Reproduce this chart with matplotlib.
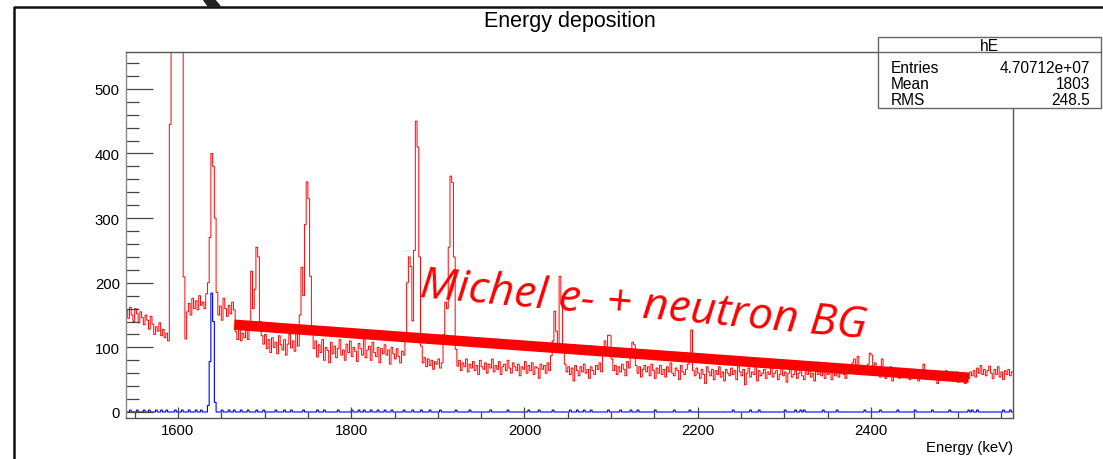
import numpy as np
import matplotlib
matplotlib.use('Agg')
import matplotlib.pyplot as plt
from matplotlib.patches import Rectangle, Polygon
from matplotlib.lines import Line2D

plt.rcParams['font.family'] = ['Liberation Sans', 'DejaVu Sans']

# histogram binning (keV), 2 keV bins
e_lo, e_hi, bw = 1540, 2564, 2

# red spectrum (counts per bin), rows of 25 bins = 50 keV
red_counts = [
    158, 145, 162, 150, 140, 160, 152, 138, 155, 146, 135, 150, 142, 128, 148, 136, 120, 132, 125, 138, 118, 128, 115, 122, 110,
    445, 1800, 3200, 4200, 4800, 4000, 2600, 1200, 209, 113, 155, 168, 150, 176, 160, 172, 158, 180, 165, 170, 160, 183, 200, 270, 400,
    380, 300, 185, 150, 164, 142, 176, 160, 148, 165, 152, 170, 158, 124, 112, 128, 110, 122, 115, 126, 112, 130, 218, 160, 190,
    255, 240, 140, 118, 105, 120, 98, 112, 92, 115, 100, 108, 90, 118, 104, 96, 112, 88, 105, 120, 99, 110, 94, 124, 102,
    150, 224, 180, 290, 356, 330, 210, 120, 98, 110, 85, 104, 92, 112, 80, 100, 95, 76, 108, 90, 102, 84, 98, 112, 88,
    96, 80, 105, 92, 110, 86, 100, 94, 78, 106, 98, 88, 112, 84, 96, 102, 80, 108, 92, 86, 100, 76, 98, 90, 104,
    88, 96, 74, 100, 90, 82, 98, 86, 76, 94, 88, 110, 200, 240, 225, 141, 250, 450, 410, 240, 102, 76, 84, 70, 82,
    72, 80, 66, 78, 74, 82, 68, 76, 120, 170, 160, 255, 365, 355, 240, 97, 71, 80, 64, 76, 70, 82, 62, 74, 68,
    78, 64, 72, 58, 80, 70, 66, 76, 60, 74, 68, 82, 62, 72, 66, 78, 58, 70, 74, 64, 80, 68, 60, 76, 70,
    64, 74, 56, 70, 66, 78, 60, 72, 64, 76, 58, 70, 68, 52, 74, 66, 72, 60, 76, 64, 87, 110, 156, 125, 98,
    210, 167, 95, 74, 62, 70, 58, 68, 48, 72, 64, 56, 70, 62, 74, 60, 66, 52, 70, 64, 58, 72, 66, 76, 62,
    100, 110, 96, 119, 118, 82, 64, 72, 58, 70, 62, 74, 66, 56, 78, 68, 95, 108, 104, 72, 60, 70, 54, 66, 72,
    62, 70, 56, 74, 64, 52, 68, 60, 72, 58, 66, 54, 70, 62, 76, 60, 56, 68, 64, 50, 72, 62, 58, 66, 74,
    80, 127, 64, 56, 68, 60, 52, 66, 58, 44, 70, 62, 56, 66, 50, 64, 58, 70, 54, 62, 48, 66, 60, 56, 68,
    58, 64, 50, 70, 62, 56, 66, 42, 60, 68, 54, 62, 58, 70, 48, 64, 56, 60, 66, 52, 62, 58, 72, 54, 60,
    64, 50, 58, 68, 56, 62, 46, 60, 66, 54, 58, 64, 52, 60, 68, 56, 50, 62, 58, 66, 54, 60, 48, 64, 58,
    62, 56, 66, 52, 60, 58, 64, 50, 68, 56, 62, 54, 60, 66, 58, 52, 64, 70, 60, 76, 82, 66, 86, 62, 70,
    58, 66, 60, 74, 91, 88, 64, 76, 58, 66, 54, 82, 60, 52, 64, 58, 70, 48, 62, 56, 66, 52, 60, 58, 64,
    54, 62, 50, 60, 66, 56, 58, 48, 62, 54, 74, 60, 52, 58, 64, 50, 60, 56, 44, 62, 54, 58, 50, 64, 56,
    52, 60, 48, 58, 62, 46, 56, 54, 60, 44, 58, 52, 62, 56, 64, 54, 68, 60, 72, 58, 66, 56, 64, 71, 60,
    52, 66, 58, 70, 54, 62, 50, 64, 58, 66, 56, 62,
]

# blue spectrum: peak bins and scattered low-count bins (keV, counts)
blue_peak_e = [1634, 1636, 1638, 1640, 1642]
blue_peak_n = [10, 78, 184, 140, 15]
blue_low_e = [1544, 1552, 1560, 1566, 1574, 1580, 1586, 1596, 1604, 1612, 1620, 1626,
              1650, 1658, 1664, 1672, 1680, 1690, 1698, 1712, 1722, 1730, 1744, 1760,
              1768, 1784, 1800, 1808, 1814, 1822, 1830, 1838, 1846, 1860, 1870, 1880,
              1890, 1902, 1920, 1936, 1960, 1980, 2004, 2016, 2032, 2052, 2060, 2068,
              2076, 2096, 2110, 2122, 2130, 2150, 2172, 2190, 2240, 2260, 2270, 2300,
              2312, 2318, 2322, 2344, 2360, 2392, 2410, 2430, 2450, 2470, 2490, 2512,
              2516, 2522, 2552, 2560]
blue_low_n = 3

# hand-drawn background line and stats box contents
bg_line_x = [1665, 2513]
bg_line_y = [135, 53]
stats_names = ['Entries', 'Mean', 'RMS']
stats_vals = ['4.70712e+07', '1803', '248.5']

edges = np.arange(e_lo, e_hi + bw, bw)
red = np.array(red_counts, dtype=float)
blue = np.zeros(len(edges) - 1)
for e, n in zip(blue_peak_e, blue_peak_n):
    blue[(e - e_lo) // bw] = n
for e in blue_low_e:
    blue[(e - e_lo) // bw] = blue_low_n

fig = plt.figure(figsize=(11.03, 4.6), dpi=100)
W, H = 1103, 460
ax = fig.add_axes([126 / W, 1 - 419 / H, (1013 - 126) / W, (419 - 53) / H])

ax.stairs(red, edges, color='#ff0000', lw=0.7, baseline=None)
ax.stairs(blue, edges, color='#0000ff', lw=0.8, baseline=None)
ax.plot(bg_line_x, bg_line_y, color='#ff0000', lw=7.5, solid_capstyle='butt')

ax.text(1878, 180, 'Michel e- + neutron BG', color='#ff0000', fontsize=32,
        family=['Open Sans', 'DejaVu Sans'], style='italic',
        rotation=-5.3, rotation_mode='anchor', ha='left', va='baseline')

ax.set_xlim(e_lo, e_hi)
ax.set_ylim(-9.3, 557)
ax.set_xticks(np.arange(1600, 2401, 200))
ax.set_xticks(np.arange(1550, 2564, 50), minor=True)
ax.set_yticks(np.arange(0, 501, 100))
ax.set_yticks(np.arange(0, 557, 20), minor=True)
ax.tick_params(axis='y', which='major', direction='in', length=19.5, width=0.9,
               color='#444444', labelsize=10.7, pad=4.5)
ax.tick_params(axis='y', which='minor', direction='in', length=9.5, width=0.9, color='#444444')
ax.tick_params(axis='x', which='major', direction='in', length=8, width=0.9,
               color='#444444', labelsize=10.7, pad=3.5)
ax.tick_params(axis='x', which='minor', direction='in', length=4.3, width=0.9, color='#444444')
for s in ax.spines.values():
    s.set_color('#555555')
    s.set_linewidth(1)
ax.spines['left'].set_color('#888888')
ax.set_xlabel('Energy (keV)', fontsize=10.7, loc='right', labelpad=2)

fig.text(570 / W, 1 - 22 / H, 'Energy deposition', fontsize=15.5, ha='center', va='center')

# stats box
fig.add_artist(Rectangle((878 / W, 1 - 109 / H), (1101 - 878) / W, (109 - 38) / H,
                         transform=fig.transFigure, facecolor='white',
                         edgecolor='#666666', lw=1, zorder=5))
fig.add_artist(Line2D([878 / W, 1101 / W], [1 - 53 / H, 1 - 53 / H],
                      transform=fig.transFigure, color='#666666', lw=1, zorder=6))
fig.text(989.5 / W, 1 - 51 / H, 'hE', fontsize=11.2, ha='center', va='baseline', zorder=7)
for i, (nm, vl) in enumerate(zip(stats_names, stats_vals)):
    yb = 1 - (73 + 16.2 * i) / H
    fig.text(891 / W, yb, nm, fontsize=11.2, ha='left', va='baseline', zorder=7)
    fig.text(1090 / W, yb, vl, fontsize=11.2, ha='right', va='baseline', zorder=7)

# outer canvas border and the cursor tip at the top
fig.add_artist(Line2D([14 / W, 14 / W, 1], [0, 1 - 8 / H, 1 - 8 / H],
                      transform=fig.transFigure, color='#111111', lw=1.8))
fig.add_artist(Polygon([(203 / W, 1), (214 / W, 1), (220 / W, 1 - 7 / H), (208 / W, 1 - 7 / H)],
                       closed=True, transform=fig.transFigure, color='#222222'))

fig.savefig('out.png', dpi=100)
